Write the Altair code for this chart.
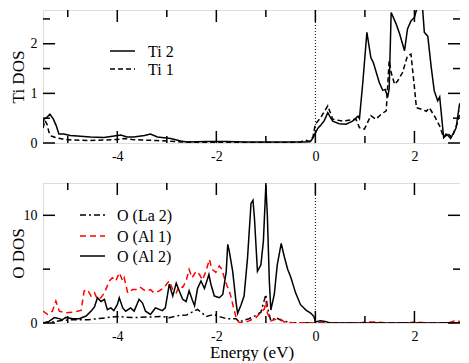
import altair as alt
import pandas as pd

# ---------------- data ----------------
ti2_e = [-5.5, -5.48, -5.43, -5.36, -5.29, -5.23, -5.18, -5.08, -4.95, -4.81, -4.54, -4.27, -4.13,
         -3.93, -3.8, -3.67, -3.45, -3.33, -3.19, -2.92, -2.72, -2.6, -2.2, -1.8, -1.4, -1.0, -0.5,
         -0.2, -0.1, -0.05, 0.0, 0.05, 0.1, 0.18, 0.25, 0.3, 0.35, 0.48, 0.62, 0.75, 0.86, 0.89,
         0.96, 1.04, 1.12, 1.17, 1.29, 1.36, 1.41, 1.46, 1.49, 1.53, 1.63, 1.7, 1.8, 1.86, 1.93,
         2.0, 2.06, 2.1, 2.16, 2.2, 2.27, 2.34, 2.4, 2.47, 2.51, 2.59, 2.66, 2.73, 2.84, 2.91, 3.0]
ti2_dos = [0.38, 0.48, 0.51, 0.58, 0.48, 0.34, 0.18, 0.18, 0.15, 0.14, 0.12, 0.11, 0.13,
           0.16, 0.12, 0.12, 0.15, 0.18, 0.12, 0.09, 0.04, 0.02, 0.03, 0.03, 0.02, 0.02, 0.02,
           0.02, 0.03, 0.1, 0.2, 0.3, 0.35, 0.45, 0.61, 0.52, 0.44, 0.39, 0.38, 0.44, 0.54, 0.49,
           1.25, 2.23, 1.72, 1.62, 1.22, 1.06, 1.08, 0.92, 1.1, 2.63, 2.4, 2.2, 1.86, 2.3, 2.46,
           2.53, 2.75, 3.0, 2.77, 2.23, 2.15, 1.52, 1.05, 0.85, 0.93, 0.11, 0.17, 0.09, 0.3, 0.78, 0.88]

ti1_e = [-5.5, -5.46, -5.42, -5.38, -5.33, -5.25, -5.1, -4.9, -4.6, -4.3, -4.0, -3.85, -3.7, -3.5,
         -3.2, -3.0, -2.7, -2.3, -1.5, -0.6, -0.3, -0.2, -0.12, -0.05, 0.0, 0.1, 0.25, 0.35, 0.55,
         0.82, 0.89, 0.99, 1.12, 1.22, 1.33, 1.43, 1.49, 1.53, 1.6, 1.66, 1.76, 1.86, 1.93, 2.0,
         2.04, 2.14, 2.24, 2.3, 2.4, 2.51, 2.59, 2.66, 2.76, 2.86, 2.93, 3.0]
ti1_dos = [0.3, 0.45, 0.38, 0.22, 0.14, 0.11, 0.08, 0.06, 0.05, 0.06, 0.07, 0.09, 0.07, 0.06,
           0.05, 0.04, 0.02, 0.01, 0.01, 0.01, 0.02, 0.06, 0.03, 0.12, 0.38, 0.5, 0.75, 0.48, 0.44,
           0.48, 0.31, 0.28, 0.55, 0.48, 0.58, 0.65, 1.66, 1.42, 1.18, 1.25, 1.42, 1.76, 1.79, 1.12,
           0.71, 0.68, 0.64, 0.71, 0.55, 0.34, 0.11, 0.21, 0.11, 0.38, 0.65, 0.81]

la2_e = [-5.5, -5.3, -5.1, -4.9, -4.6, -4.3, -4.0, -3.7, -3.4, -3.1, -2.95, -2.75, -2.6, -2.45,
         -2.38, -2.3, -2.2, -2.05, -1.94, -1.8, -1.6, -1.54, -1.34, -1.2, -1.1, -1.0, -0.97, -0.9,
         -0.8, -0.67, -0.5, -0.3, 0.0, 3.0]
la2_dos = [0.0, 0.1, 0.25, 0.3, 0.3, 0.45, 0.6, 0.5, 0.55, 0.6, 0.5, 0.7, 0.75, 1.1,
           1.27, 0.95, 0.6, 0.8, 0.6, 0.4, 0.4, 0.1, 0.4, 0.7, 1.0, 2.65, 1.5, 0.2,
           0.5, 0.2, 0.05, 0.02, 0.0, 0.0]

al1_e = [-5.5, -5.41, -5.31, -5.24, -5.17, -5.04, -4.9, -4.73, -4.67, -4.6, -4.53, -4.46, -4.4,
         -4.33, -4.26, -4.16, -4.1, -4.03, -3.96, -3.89, -3.86, -3.79, -3.69, -3.59, -3.53, -3.43,
         -3.33, -3.26, -3.16, -3.06, -2.99, -2.95, -2.88, -2.81, -2.75, -2.68, -2.61, -2.55, -2.49,
         -2.41, -2.34, -2.28, -2.21, -2.14, -2.09, -2.01, -1.94, -1.89, -1.82, -1.77, -1.72, -1.66,
         -1.6, -1.54, -1.44, -1.34, -1.2, -1.1, -1.03, -1.0, -0.97, -0.9, -0.8, -0.7, -0.63, -0.46,
         -0.2, 0.0, 0.9, 1.0, 1.2, 1.4, 1.9, 2.0, 2.2, 2.7, 2.8, 2.85, 2.92, 3.0]
al1_dos = [1.1, 0.8, 1.1, 2.04, 1.1, 0.95, 1.0, 1.17, 2.96, 3.1, 2.5, 2.8, 2.2,
           2.35, 2.8, 3.9, 4.2, 3.9, 4.66, 3.9, 4.2, 2.8, 3.1, 3.1, 3.3, 2.96,
           3.1, 2.8, 2.96, 3.27, 3.7, 3.9, 3.1, 2.8, 3.4, 3.3, 3.9, 4.97, 4.2,
           4.8, 4.5, 4.0, 4.8, 5.9, 5.0, 4.7, 5.3, 5.0, 3.9, 3.3, 2.7, 1.57,
           0.5, 0.05, 0.0, 0.2, 0.5, 1.0, 1.3, 2.0, 0.95, 0.2, 0.35, 0.35, 0.1, 0.03,
           0.02, 0.0, 0.0, 0.1, 0.1, 0.02, 0.02, 0.1, 0.02, 0.02, 0.2, 0.3, 0.1, 0.05]

al2_e = [-5.5, -5.38, -5.27, -5.21, -5.11, -5.04, -4.9, -4.77, -4.63, -4.53, -4.46, -4.4, -4.33,
         -4.26, -4.2, -4.13, -4.07, -4.0, -3.96, -3.89, -3.83, -3.73, -3.66, -3.56, -3.49, -3.43,
         -3.33, -3.23, -3.09, -3.03, -2.95, -2.88, -2.81, -2.75, -2.68, -2.61, -2.55, -2.49, -2.44,
         -2.38, -2.31, -2.24, -2.15, -2.11, -2.04, -1.94, -1.87, -1.8, -1.77, -1.74, -1.67, -1.6,
         -1.57, -1.5, -1.44, -1.37, -1.3, -1.26, -1.23, -1.17, -1.1, -1.05, -1.0, -0.97, -0.93,
         -0.9, -0.83, -0.77, -0.69, -0.63, -0.56, -0.5, -0.4, -0.3, -0.19, -0.09, -0.03, 0.0, 0.1,
         0.2, 0.3, 3.0]
al2_dos = [0.0, 0.15, 0.5, 0.45, 0.3, 0.52, 0.4, 0.4, 0.65, 1.1, 1.5, 2.35, 2.0,
           2.2, 1.23, 1.4, 1.15, 1.7, 2.35, 1.4, 1.1, 1.4, 1.1, 2.2, 1.85, 1.1,
           0.8, 1.4, 1.15, 1.4, 3.6, 2.5, 3.7, 3.0, 2.2, 2.0, 3.0, 2.2, 1.6,
           3.2, 3.9, 3.2, 4.5, 3.6, 2.5, 2.35, 2.65, 4.8, 7.3, 6.7, 4.8, 1.85,
           0.9, 1.7, 2.5, 6.05, 11.1, 11.4, 9.7, 4.8, 5.4, 7.6, 12.8, 10.0, 3.9,
           1.2, 2.65, 5.4, 7.4, 6.2, 5.0, 4.3, 2.8, 1.7, 1.2, 0.9, 0.6, 0.1, 0.2,
           0.15, 0.0, 0.0]

x_labels = [-4, -2, 0, 2]
x_minor = [-5, -3, -1, 1]
top_y_major = [0, 1, 2]
top_y_minor = [0.5, 1.5, 2.5]
bot_y_major = [0, 10]
bot_y_minor = [5]
fermi = [0]

# ---------------- styling ----------------
FONT = "Liberation Serif, Times New Roman, serif"
W = 417
H1 = 133
H2 = 140
MAJ = 12
MIN = 7

# same pixels-per-eV as the reference; the page is a few pixels narrower
xscale = alt.Scale(domain=[-5.5, 2.92], nice=False, zero=False)


def xaxis(title):
    kw = dict(values=x_labels, ticks=False, domain=False, grid=False,
              labelExpr="datum.value", labelFont=FONT, labelFontSize=14,
              labelColor="black", labelPadding=6, labelFlush=False, labelOverlap=False)
    if title:
        kw.update(title=title, titleFont=FONT, titleFontSize=17, titleFontWeight="normal",
                  titleColor="black", titleBaseline="alphabetic", titleY=34)
    else:
        kw.update(title=None)
    return alt.Axis(**kw)


def yaxis(title, values):
    return alt.Axis(values=values, ticks=False, domain=False, grid=False,
                    labelExpr="datum.value", labelFont=FONT, labelFontSize=14,
                    labelColor="black", labelPadding=6, labelFlush=False, labelOverlap=False,
                    title=title, titleFont=FONT, titleFontSize=17, titleFontWeight="normal",
                    titleColor="black", titleX=-16)


legend_meta = {
    "Ti DOS": [("Ti 2", "black", None), ("Ti 1", "black", [5, 3])],
    "O DOS": [("O (La 2)", "black", [6, 3, 2, 3]),
              ("O (Al 1)", "#ff0000", [6, 4]),
              ("O (Al 2)", "black", None)],
}


def panel(series, ymax, ytitle, ymaj, ymin, xtitle, H, legend):
    ysc = alt.Scale(domain=[0, ymax], nice=False, zero=False)
    X = lambda: alt.X("E:Q", scale=xscale, axis=xaxis(xtitle))
    Y = lambda: alt.Y("D:Q", scale=ysc, axis=yaxis(ytitle, ymaj))
    layers = []
    for e, d, color, dash in series:
        df = pd.DataFrame({"E": e, "D": d})
        mk = dict(color=color, strokeWidth=1.5, clip=True)
        if dash:
            mk["strokeDash"] = dash
        layers.append(alt.Chart(df).mark_line(**mk).encode(x=X(), y=Y()))
    # Fermi level
    layers.append(alt.Chart(pd.DataFrame({"E": fermi})).mark_rule(
        color="black", strokeWidth=1, strokeDash=[1, 2]).encode(
        x=X(), y=alt.value(0), y2=alt.value(H)))
    # inside ticks, all four sides
    for vals, ln in ((x_labels, MAJ), (x_minor, MIN)):
        d = pd.DataFrame({"E": vals})
        layers.append(alt.Chart(d).mark_rule(color="black", strokeWidth=1.5).encode(
            x=X(), y=alt.value(H), y2=alt.value(H - ln)))
        layers.append(alt.Chart(d).mark_rule(color="black", strokeWidth=1.5).encode(
            x=X(), y=alt.value(0), y2=alt.value(ln)))
    for vals, ln in ((ymaj, MAJ), (ymin, MIN)):
        d = pd.DataFrame({"D": vals})
        layers.append(alt.Chart(d).mark_rule(color="black", strokeWidth=1.5).encode(
            y=Y(), x=alt.value(0), x2=alt.value(ln)))
        layers.append(alt.Chart(d).mark_rule(color="black", strokeWidth=1.5).encode(
            y=Y(), x=alt.value(W), x2=alt.value(W - ln)))
    # legend
    lx0, lx1, tx, ys = legend
    for (name, color, dash), yy in zip(legend_meta[ytitle], ys):
        d = pd.DataFrame({"label": [name]})
        mk = dict(color=color, strokeWidth=1.5)
        if dash:
            mk["strokeDash"] = dash
        layers.append(alt.Chart(d).mark_rule(**mk).encode(
            x=alt.value(lx0), x2=alt.value(lx1), y=alt.value(yy)))
        layers.append(alt.Chart(d).mark_text(
            align="left", baseline="middle", font=FONT, fontSize=16, color="black").encode(
            x=alt.value(tx), y=alt.value(yy + 1), text="label:N"))
    return alt.layer(*layers).properties(width=W, height=H)


top = panel([(ti2_e, ti2_dos, "black", None), (ti1_e, ti1_dos, "black", [5, 3])],
            2.68, "Ti DOS", top_y_major, top_y_minor, None, H1,
            (67, 92, 105, [41, 59]))
bottom = panel([(la2_e, la2_dos, "black", [6, 3, 2, 3]),
                (al1_e, al1_dos, "#ff0000", [6, 4]),
                (al2_e, al2_dos, "black", None)],
               13, "O DOS", bot_y_major, bot_y_minor, "Energy (eV)", H2,
               (37, 62, 74, [32, 53, 73]))

chart = alt.vconcat(top, bottom, spacing=40, bounds="flush").properties(
    padding={"left": 0, "top": 0, "right": -2, "bottom": 0},
).configure_view(stroke="black", strokeWidth=1.6).configure(background="white")

chart.save("out.html", embed_options={"renderer": "svg", "actions": False})
